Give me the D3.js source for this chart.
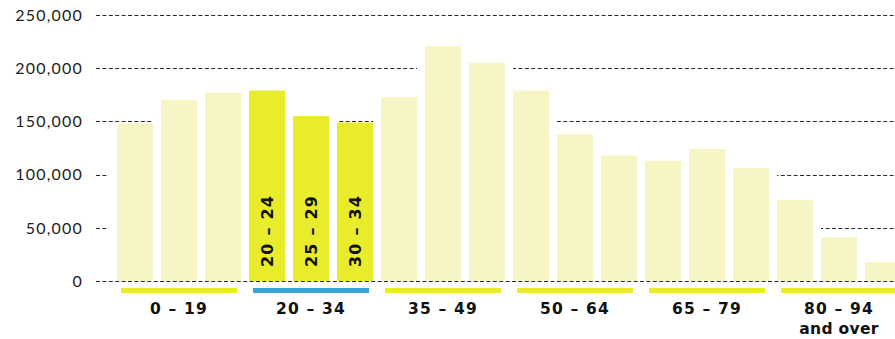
<!DOCTYPE html>
<html>
<head>
<meta charset="utf-8">
<script src="https://cdn.jsdelivr.net/npm/d3@7/dist/d3.min.js"></script>
<style>
  html, body { margin: 0; padding: 0; background: #fff; }
  svg { display: block; }
  .tick-label { font-family: Lato, "Open Sans", sans-serif; font-size: 16px; fill: #1c1c1c; letter-spacing: 1.2px; }
  .group-label, .bar-label { font-family: "DejaVu Sans", sans-serif; font-weight: bold; font-size: 15.5px; fill: #111; letter-spacing: 1.2px; }
  .bar-label { font-size: 16px; }
  .group-label .sub { letter-spacing: 0.3px; }
</style>
</head>
<body>
<svg id="chart" width="895" height="339"></svg>
<script>
// Population by age band, three bars per age group
const ageBands = ["0 – 6", "7 – 13", "14 – 19", "20 – 24", "25 – 29", "30 – 34",
                  "35 – 39", "40 – 44", "45 – 49", "50 – 54", "55 – 59", "60 – 64",
                  "65 – 69", "70 – 74", "75 – 79", "80 – 84", "85 – 89", "90 and over"];
const population = [148000, 170000, 177000, 179000, 155000, 149000,
                    173000, 221000, 205000, 179000, 138000, 118000,
                    113000, 124000, 106000, 76000, 41000, 18000];
const highlightedBands = ["20 – 24", "25 – 29", "30 – 34"];

const groupLabels = [["0 – 19"], ["20 – 34"], ["35 – 49"], ["50 – 64"], ["65 – 79"], ["80 – 94", "and over"]];
const highlightedGroup = "20 – 34";
const barsPerGroup = 3;

const yTicks = [0, 50000, 100000, 150000, 200000, 250000];

const colors = { pale: "#f7f5c4", bright: "#e8ec2b", blue: "#3aa3da", grid: "#2a2a2a" };

const svg = d3.select("#chart");

const x = d3.scaleBand()
  .domain(ageBands)
  .range([113, 905])
  .paddingInner(8 / 44)
  .paddingOuter(4 / 44);

const y = d3.scaleLinear().domain([0, 250000]).range([281, 15]);

const fmt = d3.format(",");

// dashed gridlines
svg.append("g").selectAll("line")
  .data(yTicks)
  .join("line")
  .attr("x1", 96).attr("x2", 895)
  .attr("y1", d => Math.round(y(d)) + 0.5)
  .attr("y2", d => Math.round(y(d)) + 0.5)
  .attr("stroke", colors.grid)
  .attr("stroke-width", 1)
  .attr("stroke-dasharray", "4,2.4");

// tick labels
svg.append("g").selectAll("text")
  .data(yTicks)
  .join("text")
  .attr("class", "tick-label")
  .attr("x", 83)
  .attr("y", d => y(d))
  .attr("dy", "0.36em")
  .attr("text-anchor", "end")
  .text(d => fmt(d));

const rows = ageBands.map((band, i) => ({ band, value: population[i] }));

// white knock-outs behind bars that hide the gridlines around them
const pad = 8;
svg.append("g").selectAll("rect")
  .data(rows)
  .join("rect")
  .attr("x", d => x(d.band) - pad)
  .attr("width", x.bandwidth() + 2 * pad)
  .attr("y", d => y(d.value))
  .attr("height", d => y(0) - y(d.value))
  .attr("fill", "#fff");

// bars
svg.append("g").selectAll("rect")
  .data(rows)
  .join("rect")
  .attr("x", d => x(d.band))
  .attr("width", x.bandwidth())
  .attr("y", d => y(d.value))
  .attr("height", d => y(0) - y(d.value))
  .attr("fill", d => highlightedBands.includes(d.band) ? colors.bright : colors.pale);

// vertical labels inside highlighted bars
svg.append("g").selectAll("text")
  .data(rows.filter(d => highlightedBands.includes(d.band)))
  .join("text")
  .attr("class", "bar-label")
  .attr("transform", d => `translate(${x(d.band) + x.bandwidth() / 2},${y(0) - 14}) rotate(-90)`)
  .attr("dy", "0.36em")
  .attr("text-anchor", "start")
  .text(d => d.band);

// age-group underline bands and labels
const groups = groupLabels.map((lines, g) => {
  const first = ageBands[g * barsPerGroup];
  const last = ageBands[g * barsPerGroup + barsPerGroup - 1];
  return { lines, x0: x(first) + 4, x1: x(last) + x.bandwidth() - 4 };
});

svg.append("g").selectAll("rect")
  .data(groups)
  .join("rect")
  .attr("x", d => d.x0)
  .attr("width", d => d.x1 - d.x0)
  .attr("y", y(0) + 7)
  .attr("height", 5)
  .attr("fill", d => d.lines[0] === highlightedGroup ? colors.blue : colors.bright);

const labels = svg.append("g").selectAll("text")
  .data(groups)
  .join("text")
  .attr("class", "group-label")
  .attr("text-anchor", "middle")
  .attr("y", y(0) + 33);

labels.selectAll("tspan")
  .data(d => d.lines.map((t, i) => ({ t, i, cx: Math.min((d.x0 + d.x1) / 2, 840) })))
  .join("tspan")
  .attr("class", d => d.i === 0 ? null : "sub")
  .attr("x", d => d.cx)
  .attr("dy", d => d.i === 0 ? 0 : 20)
  .text(d => d.t);
</script>
</body>
</html>
